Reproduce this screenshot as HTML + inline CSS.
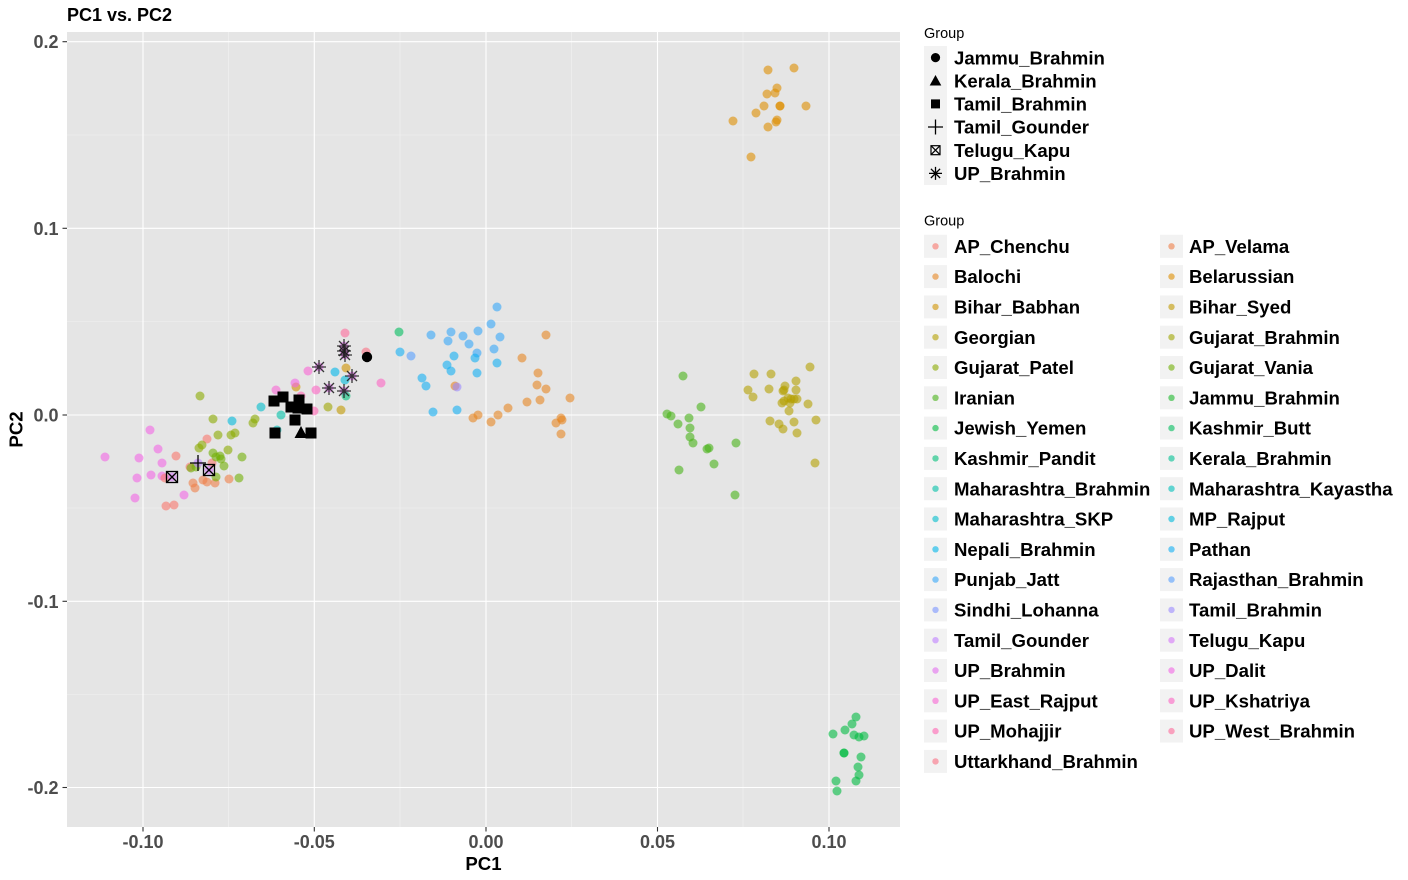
<!DOCTYPE html>
<html><head><meta charset="utf-8"><style>
html,body{margin:0;padding:0;background:#fff;}
svg{display:block;font-family:"Liberation Sans",Arial,sans-serif;}
</style></head><body>
<svg width="1408" height="880" viewBox="0 0 1408 880" xmlns="http://www.w3.org/2000/svg">
<rect x="0" y="0" width="1408" height="880" fill="#fff"/>
<text x="67" y="21" font-size="18" font-weight="bold" fill="#000">PC1 vs. PC2</text>
<!-- panel -->
<rect x="67" y="32" width="833" height="795" fill="#E5E5E5"/>
<g stroke="#F2F2F2" stroke-width="0.6">
<line x1="228.5" y1="32" x2="228.5" y2="827"/><line x1="400" y1="32" x2="400" y2="827"/>
<line x1="571.5" y1="32" x2="571.5" y2="827"/><line x1="743" y1="32" x2="743" y2="827"/>
<line x1="67" y1="135" x2="900" y2="135"/><line x1="67" y1="321.5" x2="900" y2="321.5"/>
<line x1="67" y1="508" x2="900" y2="508"/><line x1="67" y1="694.5" x2="900" y2="694.5"/>
</g>
<g stroke="#fff" stroke-width="1.1">
<line x1="143" y1="32" x2="143" y2="827"/><line x1="314.3" y1="32" x2="314.3" y2="827"/>
<line x1="486" y1="32" x2="486" y2="827"/><line x1="657.5" y1="32" x2="657.5" y2="827"/>
<line x1="829" y1="32" x2="829" y2="827"/>
<line x1="67" y1="41.7" x2="900" y2="41.7"/><line x1="67" y1="228.3" x2="900" y2="228.3"/>
<line x1="67" y1="415" x2="900" y2="415"/><line x1="67" y1="601.3" x2="900" y2="601.3"/>
<line x1="67" y1="787.5" x2="900" y2="787.5"/>
</g>
<!-- ticks -->
<g stroke="#333" stroke-width="1.1">
<line x1="143" y1="827" x2="143" y2="831.5"/><line x1="314.3" y1="827" x2="314.3" y2="831.5"/>
<line x1="486" y1="827" x2="486" y2="831.5"/><line x1="657.5" y1="827" x2="657.5" y2="831.5"/>
<line x1="829" y1="827" x2="829" y2="831.5"/>
<line x1="62.5" y1="41.7" x2="67" y2="41.7"/><line x1="62.5" y1="228.3" x2="67" y2="228.3"/>
<line x1="62.5" y1="415" x2="67" y2="415"/><line x1="62.5" y1="601.3" x2="67" y2="601.3"/>
<line x1="62.5" y1="787.5" x2="67" y2="787.5"/>
</g>
<g font-size="18" font-weight="bold" fill="#4D4D4D" text-anchor="middle">
<text x="143" y="848">-0.10</text><text x="314.3" y="848">-0.05</text>
<text x="486" y="848">0.00</text><text x="657.5" y="848">0.05</text><text x="829" y="848">0.10</text>
</g>
<g font-size="18" font-weight="bold" fill="#4D4D4D" text-anchor="end">
<text x="58.5" y="48.2">0.2</text><text x="58.5" y="234.8">0.1</text>
<text x="58.5" y="421.5">0.0</text><text x="58.5" y="607.8">-0.1</text><text x="58.5" y="794">-0.2</text>
</g>
<text x="483.5" y="870" font-size="18.6" font-weight="bold" text-anchor="middle" fill="#000">PC1</text>
<text transform="translate(22.5,429.5) rotate(-90)" font-size="18.6" font-weight="bold" text-anchor="middle" fill="#000">PC2</text>

<!-- colored points -->
<g fill-opacity="0.6">
<g fill="#F265E5">
<circle cx="150" cy="430" r="4.5"/><circle cx="158" cy="449" r="4.5"/><circle cx="105" cy="457" r="4.5"/>
<circle cx="139" cy="458" r="4.5"/><circle cx="162" cy="463" r="4.5"/><circle cx="137" cy="478" r="4.5"/>
<circle cx="151" cy="475" r="4.5"/><circle cx="162" cy="476" r="4.5"/><circle cx="184" cy="495" r="4.5"/>
<circle cx="135" cy="498" r="4.5"/>
</g>
<g fill="#F8766D">
<circle cx="207" cy="439" r="4.5"/><circle cx="176" cy="456" r="4.5"/><circle cx="212" cy="463" r="4.5"/>
<circle cx="190" cy="467" r="4.5"/><circle cx="165" cy="478" r="4.5"/><circle cx="166" cy="506" r="4.5"/>
<circle cx="174" cy="505" r="4.5"/>
</g>
<g fill="#EF7E48">
<circle cx="203" cy="480" r="4.5"/><circle cx="207" cy="482" r="4.5"/><circle cx="215" cy="483" r="4.5"/>
<circle cx="229" cy="479" r="4.5"/><circle cx="193" cy="483" r="4.5"/><circle cx="195" cy="488" r="4.5"/>
</g>
<g fill="#8BAA00">
<circle cx="200" cy="396" r="4.5"/><circle cx="213" cy="419" r="4.5"/><circle cx="255" cy="419" r="4.5"/>
<circle cx="253" cy="423" r="4.5"/><circle cx="218" cy="435" r="4.5"/><circle cx="231" cy="435" r="4.5"/>
<circle cx="235" cy="433" r="4.5"/><circle cx="202" cy="445" r="4.5"/><circle cx="199" cy="448" r="4.5"/>
<circle cx="228" cy="450" r="4.5"/>
</g>
<g fill="#71AF05">
<circle cx="213" cy="453" r="4.5"/><circle cx="216" cy="457" r="4.5"/><circle cx="220" cy="456" r="4.5"/>
<circle cx="221" cy="459" r="4.5"/><circle cx="242" cy="457" r="4.5"/><circle cx="191" cy="468" r="4.5"/>
<circle cx="196" cy="467" r="4.5"/><circle cx="224" cy="466" r="4.5"/><circle cx="216" cy="477" r="4.5"/>
<circle cx="239" cy="478" r="4.5"/>
</g>
<circle cx="261" cy="407" r="4.5" fill="#00BDCC"/>
<circle cx="281" cy="415" r="4.5" fill="#00C0A7"/>
<circle cx="232" cy="421" r="4.5" fill="#00B9DB"/>
<circle cx="277" cy="430" r="4.5" fill="#00BFBA"/>
<circle cx="198" cy="463" r="4.5" fill="#BE7FFF"/>
<circle cx="172" cy="477" r="4.5" fill="#D376F8"/>
<circle cx="209" cy="470" r="4.5" fill="#D376F8"/>
<circle cx="345" cy="333" r="4.5" fill="#FD6A9B"/>
<g fill="#E36EEE">
<circle cx="344" cy="346" r="4.5"/><circle cx="344" cy="351" r="4.5"/><circle cx="345" cy="355" r="4.5"/>
<circle cx="319" cy="367" r="4.5"/><circle cx="352" cy="376" r="4.5"/><circle cx="329" cy="388" r="4.5"/>
<circle cx="344" cy="391" r="4.5"/>
</g>
<circle cx="366" cy="352" r="4.5" fill="#FA7084"/>
<circle cx="367" cy="357" r="4.5" fill="#1DB72B"/>
<circle cx="308" cy="371" r="4.5" fill="#F864D4"/>
<circle cx="335" cy="372" r="4.5" fill="#00B6EA"/>
<circle cx="346" cy="368" r="4.5" fill="#D09300"/>
<circle cx="296" cy="387" r="4.5" fill="#D09300"/>
<circle cx="341" cy="410" r="4.5" fill="#C29A00"/>
<circle cx="328" cy="407" r="4.5" fill="#9FA500"/>
<circle cx="345" cy="380" r="4.5" fill="#00B9DB"/>
<circle cx="381" cy="383" r="4.5" fill="#FB64C3"/>
<circle cx="295" cy="383" r="4.5" fill="#F265E5"/>
<circle cx="276" cy="390" r="4.5" fill="#F864D4"/>
<circle cx="301" cy="396" r="4.5" fill="#FF64B2"/>
<circle cx="316" cy="390" r="4.5" fill="#FB64C3"/>
<circle cx="314" cy="411" r="4.5" fill="#FF64B2"/>
<circle cx="346" cy="396" r="4.5" fill="#00BF7A"/>
<circle cx="399" cy="332" r="4.5" fill="#00BD5E"/>
<circle cx="400" cy="352" r="4.5" fill="#13AFF3"/>
<circle cx="411" cy="356" r="4.5" fill="#569FFD"/>
<g fill="#35A7F8">
<circle cx="497" cy="307" r="4.5"/><circle cx="491" cy="324" r="4.5"/><circle cx="431" cy="335" r="4.5"/>
<circle cx="451" cy="332" r="4.5"/><circle cx="448" cy="341" r="4.5"/><circle cx="463" cy="336" r="4.5"/>
<circle cx="478" cy="331" r="4.5"/><circle cx="469" cy="344" r="4.5"/><circle cx="500" cy="337" r="4.5"/>
<circle cx="494" cy="349" r="4.5"/><circle cx="477" cy="353" r="4.5"/>
</g>
<g fill="#13AFF3">
<circle cx="475" cy="358" r="4.5"/><circle cx="454" cy="356" r="4.5"/><circle cx="447" cy="365" r="4.5"/>
<circle cx="451" cy="371" r="4.5"/><circle cx="477" cy="373" r="4.5"/><circle cx="497" cy="363" r="4.5"/>
<circle cx="422" cy="378" r="4.5"/><circle cx="426" cy="386" r="4.5"/><circle cx="433" cy="412" r="4.5"/>
<circle cx="457" cy="410" r="4.5"/>
</g>
<g fill="#E68522">
<circle cx="546" cy="335" r="4.5"/><circle cx="522" cy="358" r="4.5"/><circle cx="538" cy="373" r="4.5"/>
<circle cx="537" cy="385" r="4.5"/><circle cx="546" cy="389" r="4.5"/><circle cx="570" cy="398" r="4.5"/>
<circle cx="527" cy="402" r="4.5"/><circle cx="540" cy="400" r="4.5"/><circle cx="508" cy="408" r="4.5"/>
<circle cx="498" cy="415" r="4.5"/><circle cx="478" cy="415" r="4.5"/><circle cx="473" cy="418" r="4.5"/>
<circle cx="491" cy="422" r="4.5"/><circle cx="561" cy="418" r="4.5"/><circle cx="562" cy="420" r="4.5"/>
<circle cx="556" cy="423" r="4.5"/><circle cx="561" cy="434" r="4.5"/><circle cx="455" cy="386" r="4.5"/>
</g>
<circle cx="457" cy="387" r="4.5" fill="#9B8AFF"/>
<g fill="#47B318">
<circle cx="683" cy="376" r="4.5"/><circle cx="701" cy="407" r="4.5"/><circle cx="667" cy="414" r="4.5"/>
<circle cx="671" cy="416" r="4.5"/><circle cx="689" cy="418" r="4.5"/><circle cx="678" cy="424" r="4.5"/>
<circle cx="690" cy="428" r="4.5"/><circle cx="690" cy="437" r="4.5"/><circle cx="693" cy="443" r="4.5"/>
<circle cx="707" cy="449" r="4.5"/><circle cx="709" cy="448" r="4.5"/><circle cx="736" cy="443" r="4.5"/>
<circle cx="714" cy="464" r="4.5"/><circle cx="679" cy="470" r="4.5"/><circle cx="735" cy="495" r="4.5"/>
</g>
<g fill="#B4A000">
<circle cx="810" cy="367" r="4.5"/><circle cx="754" cy="374" r="4.5"/><circle cx="771" cy="374" r="4.5"/>
<circle cx="748" cy="390" r="4.5"/><circle cx="769" cy="389" r="4.5"/><circle cx="753" cy="397" r="4.5"/>
<circle cx="785" cy="386" r="4.5"/><circle cx="783" cy="391" r="4.5"/><circle cx="784" cy="390" r="4.5"/>
<circle cx="796" cy="381" r="4.5"/><circle cx="796" cy="390" r="4.5"/><circle cx="788" cy="398" r="4.5"/>
<circle cx="791" cy="399" r="4.5"/><circle cx="794" cy="399" r="4.5"/><circle cx="797" cy="399" r="4.5"/>
<circle cx="782" cy="403" r="4.5"/><circle cx="784" cy="401" r="4.5"/><circle cx="790" cy="403" r="4.5"/>
<circle cx="808" cy="404" r="4.5"/><circle cx="789" cy="411" r="4.5"/><circle cx="770" cy="421" r="4.5"/>
<circle cx="779" cy="424" r="4.5"/><circle cx="794" cy="422" r="4.5"/><circle cx="783" cy="429" r="4.5"/>
<circle cx="816" cy="420" r="4.5"/><circle cx="797" cy="433" r="4.5"/><circle cx="815" cy="463" r="4.5"/>
</g>
<g fill="#DD8D00">
<circle cx="768" cy="70" r="4.5"/><circle cx="794" cy="68" r="4.5"/><circle cx="777" cy="88" r="4.5"/>
<circle cx="767" cy="94" r="4.5"/><circle cx="775" cy="93" r="4.5"/><circle cx="764" cy="106" r="4.5"/>
<circle cx="780" cy="106" r="4.5"/><circle cx="780" cy="106" r="4.5"/><circle cx="806" cy="106" r="4.5"/>
<circle cx="756" cy="113" r="4.5"/><circle cx="733" cy="121" r="4.5"/><circle cx="777" cy="120" r="4.5"/>
<circle cx="776" cy="122" r="4.5"/><circle cx="768" cy="127" r="4.5"/><circle cx="751" cy="157" r="4.5"/>
</g>
<g fill="#00BB41">
<circle cx="856" cy="717" r="4.5"/><circle cx="852" cy="724" r="4.5"/><circle cx="833" cy="734" r="4.5"/>
<circle cx="845" cy="730" r="4.5"/><circle cx="854" cy="735" r="4.5"/><circle cx="859" cy="737" r="4.5"/>
<circle cx="864" cy="736" r="4.5"/><circle cx="844" cy="753" r="4.5"/><circle cx="844" cy="753" r="4.5"/>
<circle cx="861" cy="757" r="4.5"/><circle cx="858" cy="767" r="4.5"/><circle cx="859" cy="775" r="4.5"/>
<circle cx="856" cy="781" r="4.5"/><circle cx="836" cy="781" r="4.5"/><circle cx="837" cy="791" r="4.5"/>
</g>
</g>

<!-- black shape overlays -->
<g fill="#000">
<rect x="268.5" y="395.5" width="11" height="11"/><rect x="277.5" y="391.5" width="11" height="11"/>
<rect x="293.5" y="394.5" width="11" height="11"/><rect x="293.5" y="398.5" width="11" height="11"/>
<rect x="285.5" y="401.5" width="11" height="11"/><rect x="292.5" y="402.5" width="11" height="11"/>
<rect x="301.5" y="403.5" width="11" height="11"/><rect x="289.5" y="414.5" width="11" height="11"/>
<rect x="269.5" y="427.5" width="11" height="11"/><rect x="305.5" y="427.5" width="11" height="11"/>
<polygon points="301,426 307.5,438 294.5,438"/>
<circle cx="367" cy="357" r="5.2"/>
</g>
<g stroke="#000" stroke-width="1.3" fill="none">
<path d="M190 463H206M198 455V471"/>
<rect x="166.5" y="471.5" width="11" height="11"/><path d="M166.5 471.5L177.5 482.5M166.5 482.5L177.5 471.5"/>
<rect x="203.5" y="464.5" width="11" height="11"/><path d="M203.5 464.5L214.5 475.5M203.5 475.5L214.5 464.5"/>
</g>
<g stroke="#1a1a1a" stroke-width="1.3" fill="none" stroke-opacity="0.85">
<path d="M337 346H351M344 339V353M339 341L349 351M339 351L349 341"/>
<path d="M337 351H351M344 344V358M339 346L349 356M339 356L349 346"/>
<path d="M338 355H352M345 348V362M340 350L350 360M340 360L350 350"/>
<path d="M312 367H326M319 360V374M314 362L324 372M314 372L324 362"/>
<path d="M345 376H359M352 369V383M347 371L357 381M347 381L357 371"/>
<path d="M322 388H336M329 381V395M324 383L334 393M324 393L334 383"/>
<path d="M337 391H351M344 384V398M339 386L349 396M339 396L349 386"/>
</g>

<!-- legend 1 -->
<text x="924" y="38" font-size="14.5" fill="#000">Group</text>
<rect x="924" y="46" width="23" height="139" fill="#F2F2F2"/>
<circle cx="935.5" cy="57.6" r="4.6" fill="#000"/>
<polygon points="935.5,75 941.3,85.5 929.7,85.5" fill="#000"/>
<rect x="931" y="99.4" width="9" height="9" fill="#000"/>
<path d="M928 127H943M935.5 119.5V134.5" stroke="#000" stroke-width="1.3" fill="none"/>
<rect x="931" y="145.7" width="9" height="9" fill="none" stroke="#000" stroke-width="1.2"/>
<path d="M931 145.7L940 154.7M931 154.7L940 145.7" stroke="#000" stroke-width="1.2"/>
<path d="M929 173.4H942M935.5 166.9V179.9M930.9 168.8L940.1 178M930.9 178L940.1 168.8" stroke="#000" stroke-width="1.3" fill="none"/>
<g font-size="18.6" font-weight="bold" fill="#000">
<text x="954" y="64.3">Jammu_Brahmin</text>
<text x="954" y="87.4">Kerala_Brahmin</text>
<text x="954" y="110.6">Tamil_Brahmin</text>
<text x="954" y="133.7">Tamil_Gounder</text>
<text x="954" y="156.9">Telugu_Kapu</text>
<text x="954" y="180.1">UP_Brahmin</text>
</g>

<!-- legend 2 -->
<text x="924" y="225.5" font-size="14.5" fill="#000">Group</text>
<g fill="#F2F2F2">
<rect x="924" y="234.8" width="23" height="23"/><rect x="924" y="265.1" width="23" height="23"/>
<rect x="924" y="295.4" width="23" height="23"/><rect x="924" y="325.7" width="23" height="23"/>
<rect x="924" y="356" width="23" height="23"/><rect x="924" y="386.3" width="23" height="23"/>
<rect x="924" y="416.6" width="23" height="23"/><rect x="924" y="446.9" width="23" height="23"/>
<rect x="924" y="477.2" width="23" height="23"/><rect x="924" y="507.5" width="23" height="23"/>
<rect x="924" y="537.8" width="23" height="23"/><rect x="924" y="568.1" width="23" height="23"/>
<rect x="924" y="598.4" width="23" height="23"/><rect x="924" y="628.7" width="23" height="23"/>
<rect x="924" y="659" width="23" height="23"/><rect x="924" y="689.3" width="23" height="23"/>
<rect x="924" y="719.6" width="23" height="23"/><rect x="924" y="749.9" width="23" height="23"/>
<rect x="1160" y="234.8" width="23" height="23"/><rect x="1160" y="265.1" width="23" height="23"/>
<rect x="1160" y="295.4" width="23" height="23"/><rect x="1160" y="325.7" width="23" height="23"/>
<rect x="1160" y="356" width="23" height="23"/><rect x="1160" y="386.3" width="23" height="23"/>
<rect x="1160" y="416.6" width="23" height="23"/><rect x="1160" y="446.9" width="23" height="23"/>
<rect x="1160" y="477.2" width="23" height="23"/><rect x="1160" y="507.5" width="23" height="23"/>
<rect x="1160" y="537.8" width="23" height="23"/><rect x="1160" y="568.1" width="23" height="23"/>
<rect x="1160" y="598.4" width="23" height="23"/><rect x="1160" y="628.7" width="23" height="23"/>
<rect x="1160" y="659" width="23" height="23"/><rect x="1160" y="689.3" width="23" height="23"/>
<rect x="1160" y="719.6" width="23" height="23"/>
</g>
<g fill-opacity="0.6">
<circle cx="935.5" cy="246.3" r="3.2" fill="#F8766D"/>
<circle cx="935.5" cy="276.6" r="3.2" fill="#E68522"/>
<circle cx="935.5" cy="306.9" r="3.2" fill="#D09300"/>
<circle cx="935.5" cy="337.2" r="3.2" fill="#B4A000"/>
<circle cx="935.5" cy="367.5" r="3.2" fill="#8BAA00"/>
<circle cx="935.5" cy="397.8" r="3.2" fill="#47B318"/>
<circle cx="935.5" cy="428.1" r="3.2" fill="#00BB41"/>
<circle cx="935.5" cy="458.4" r="3.2" fill="#00BF7A"/>
<circle cx="935.5" cy="488.7" r="3.2" fill="#00C0A7"/>
<circle cx="935.5" cy="519" r="3.2" fill="#00BDCC"/>
<circle cx="935.5" cy="549.3" r="3.2" fill="#00B6EA"/>
<circle cx="935.5" cy="579.6" r="3.2" fill="#35A7F8"/>
<circle cx="935.5" cy="609.9" r="3.2" fill="#7995FF"/>
<circle cx="935.5" cy="640.2" r="3.2" fill="#BE7FFF"/>
<circle cx="935.5" cy="670.5" r="3.2" fill="#E36EEE"/>
<circle cx="935.5" cy="700.8" r="3.2" fill="#F864D4"/>
<circle cx="935.5" cy="731.1" r="3.2" fill="#FF64B2"/>
<circle cx="935.5" cy="761.4" r="3.2" fill="#FA7084"/>
<circle cx="1171.5" cy="246.3" r="3.2" fill="#EF7E48"/>
<circle cx="1171.5" cy="276.6" r="3.2" fill="#DD8D00"/>
<circle cx="1171.5" cy="306.9" r="3.2" fill="#C29A00"/>
<circle cx="1171.5" cy="337.2" r="3.2" fill="#9FA500"/>
<circle cx="1171.5" cy="367.5" r="3.2" fill="#71AF05"/>
<circle cx="1171.5" cy="397.8" r="3.2" fill="#1DB72B"/>
<circle cx="1171.5" cy="428.1" r="3.2" fill="#00BD5E"/>
<circle cx="1171.5" cy="458.4" r="3.2" fill="#00C093"/>
<circle cx="1171.5" cy="488.7" r="3.2" fill="#00BFBA"/>
<circle cx="1171.5" cy="519" r="3.2" fill="#00B9DB"/>
<circle cx="1171.5" cy="549.3" r="3.2" fill="#13AFF3"/>
<circle cx="1171.5" cy="579.6" r="3.2" fill="#569FFD"/>
<circle cx="1171.5" cy="609.9" r="3.2" fill="#9B8AFF"/>
<circle cx="1171.5" cy="640.2" r="3.2" fill="#D376F8"/>
<circle cx="1171.5" cy="670.5" r="3.2" fill="#F265E5"/>
<circle cx="1171.5" cy="700.8" r="3.2" fill="#FB64C3"/>
<circle cx="1171.5" cy="731.1" r="3.2" fill="#FD6A9B"/>
</g>
<g font-size="18.6" font-weight="bold" fill="#000">
<text x="954" y="252.9">AP_Chenchu</text>
<text x="954" y="283.2">Balochi</text>
<text x="954" y="313.5">Bihar_Babhan</text>
<text x="954" y="343.8">Georgian</text>
<text x="954" y="374.1">Gujarat_Patel</text>
<text x="954" y="404.4">Iranian</text>
<text x="954" y="434.7">Jewish_Yemen</text>
<text x="954" y="465">Kashmir_Pandit</text>
<text x="954" y="495.3">Maharashtra_Brahmin</text>
<text x="954" y="525.6">Maharashtra_SKP</text>
<text x="954" y="555.9">Nepali_Brahmin</text>
<text x="954" y="586.2">Punjab_Jatt</text>
<text x="954" y="616.5">Sindhi_Lohanna</text>
<text x="954" y="646.8">Tamil_Gounder</text>
<text x="954" y="677.1">UP_Brahmin</text>
<text x="954" y="707.4">UP_East_Rajput</text>
<text x="954" y="737.7">UP_Mohajjir</text>
<text x="954" y="768">Uttarkhand_Brahmin</text>
<text x="1189" y="252.9">AP_Velama</text>
<text x="1189" y="283.2">Belarussian</text>
<text x="1189" y="313.5">Bihar_Syed</text>
<text x="1189" y="343.8">Gujarat_Brahmin</text>
<text x="1189" y="374.1">Gujarat_Vania</text>
<text x="1189" y="404.4">Jammu_Brahmin</text>
<text x="1189" y="434.7">Kashmir_Butt</text>
<text x="1189" y="465">Kerala_Brahmin</text>
<text x="1189" y="495.3">Maharashtra_Kayastha</text>
<text x="1189" y="525.6">MP_Rajput</text>
<text x="1189" y="555.9">Pathan</text>
<text x="1189" y="586.2">Rajasthan_Brahmin</text>
<text x="1189" y="616.5">Tamil_Brahmin</text>
<text x="1189" y="646.8">Telugu_Kapu</text>
<text x="1189" y="677.1">UP_Dalit</text>
<text x="1189" y="707.4">UP_Kshatriya</text>
<text x="1189" y="737.7">UP_West_Brahmin</text>
</g>
</svg>
</body></html>
